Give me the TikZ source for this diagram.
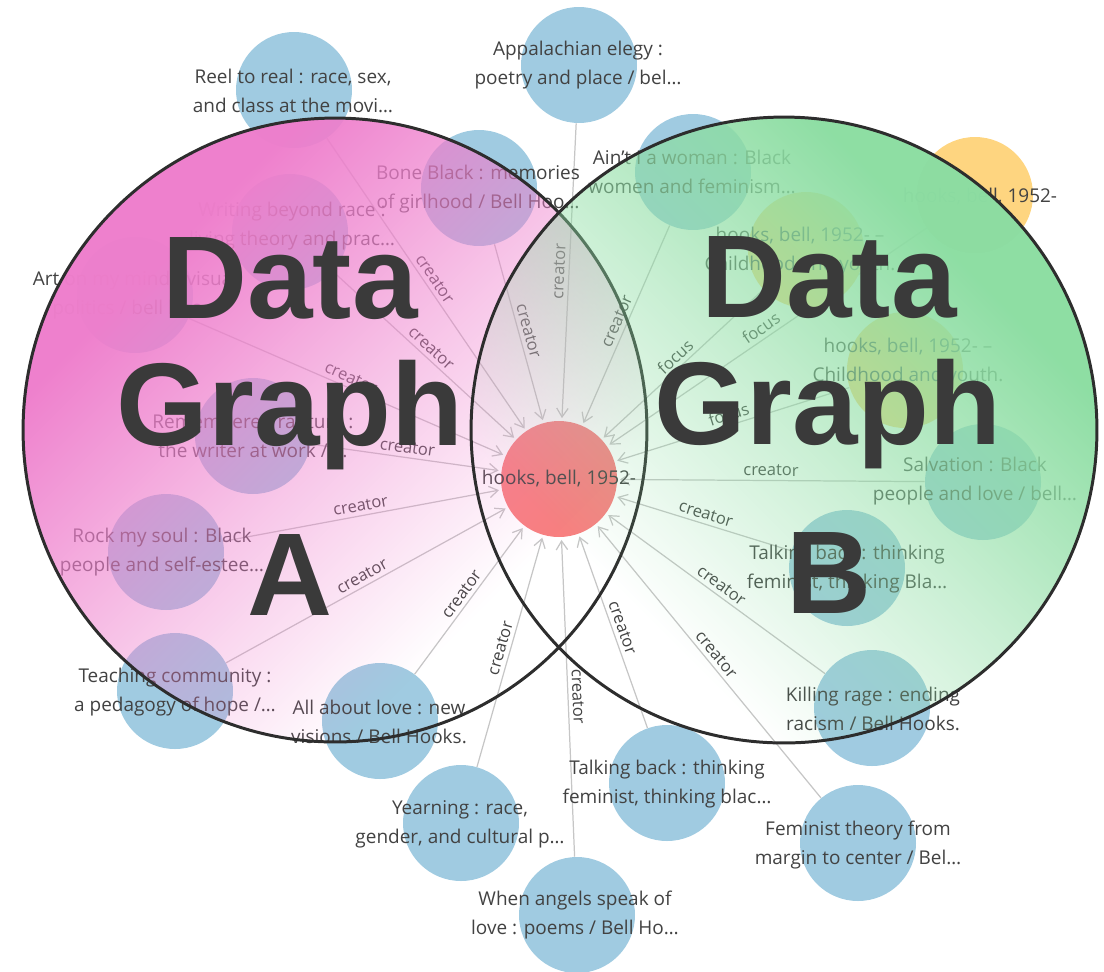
\documentclass[tikz,border=0pt]{standalone}
\usepackage{fontspec}
\setmainfont{Open Sans}
\newfontfamily\bigfont{Liberation Sans}
\usetikzlibrary{arrows.meta,fadings}
\pgfdeclarelayer{bg}
\pgfsetlayers{bg,main}
\definecolor{nodeblue}{RGB}{160,203,225}
\definecolor{nodered}{RGB}{248,128,128}
\definecolor{nodeorange}{RGB}{254,213,128}
\definecolor{edgegray}{RGB}{198,198,198}
\definecolor{txt}{RGB}{66,66,66}
\definecolor{pinkA}{RGB}{238,126,204}
\definecolor{greenB}{RGB}{140,221,162}
\definecolor{bigtxt}{RGB}{58,58,58}
\definecolor{ringline}{RGB}{45,45,45}
% opacity ramp along the diagonal of each overlay circle (black = clear, white = opaque)
\pgfdeclarehorizontalshading{rampshade}{100bp}{color(0bp)=(black); color(32.5bp)=(black);
  color(50bp)=(black!55); color(68.5bp)=(black!1.5); color(100bp)=(black!1.5)}
\pgfdeclarefading{rampfade}{\pgfuseshading{rampshade}}
\begin{document}
\begin{tikzpicture}[x=0.02cm, y=-0.02cm,
  gnode/.style={circle, minimum size=2.32cm, inner sep=0pt, fill=nodeblue},
  lbl/.style={align=center, text=txt, font=\fontsize{10.8}{16.4}\selectfont, inner sep=0pt},
  elabel/.style={sloped, above, text=txt, font=\fontsize{9.4}{11}\selectfont, inner sep=2.2pt},
  conn/.style={draw=edgegray, line width=0.7pt, -{Straight Barb[length=5pt, width=6.5pt]}, shorten >=1.5pt},
  bigtext/.style={anchor=base, text=bigtxt, font=\bigfont\bfseries\fontsize{67}{67}\selectfont, inner sep=0pt},
  ring/.style={draw=ringline, line width=1.7pt}
]
\useasboundingbox (0,0) rectangle (1104,971);

% ---------- graph nodes ----------
\node[gnode, fill=nodered] (c) at (559,479) {};
\node[gnode] (reel) at (294,90) {};
\node[gnode] (app) at (579,65) {};
\node[gnode] (bone) at (479,188) {};
\node[gnode] (aint) at (693,172) {};
\node[gnode, fill=nodeorange] (orng) at (975,195) {};
\node[gnode, fill=nodeorange] (ya) at (806,250) {};
\node[gnode, fill=nodeorange] (yb) at (905,370) {};
\node[gnode] (salv) at (983,482) {};
\node[gnode] (talkb) at (847,568) {};
\node[gnode] (kill) at (872,708) {};
\node[gnode] (fem) at (858,843) {};
\node[gnode] (talkc) at (667,783) {};
\node[gnode] (angels) at (577,915) {};
\node[gnode] (yearn) at (461,823) {};
\node[gnode] (love) at (380,721) {};
\node[gnode] (teach) at (175,691) {};
\node[gnode] (rock) at (166,552) {};
\node[gnode] (remem) at (253,436) {};
\node[gnode] (art) at (135,295) {};
\node[gnode] (beyond) at (290,232) {};

% ---------- connectors ----------
\begin{pgfonlayer}{bg}
\foreach \n/\l in {reel/creator, app/creator, bone/creator, aint/creator,
  orng/focus, ya/focus, yb/focus, salv/creator, talkb/creator, kill/creator,
  fem/creator, talkc/creator, angels/creator, yearn/creator, love/creator,
  teach/creator, rock/creator, remem/creator, art/creator, beyond/creator}
  \draw[conn] (\n) -- node[elabel] {\l} (c);
\end{pgfonlayer}

% ---------- node texts ----------
\node[lbl] (tc) at (559,479) {hooks, bell, 1952-};
\node[lbl] (treel) at (293,91) {Reel to real : race, sex,\\and class at the movi…};
\node[lbl] (tapp) at (578,65) {Appalachian elegy :\\poetry and place / bel…};
\node[lbl] (tbone) at (478,189) {Bone Black : memories\\of girlhood / Bell Hoo…};
\node[lbl] (taint) at (692,172) {Ain't I a woman : Black\\women and feminism…};
\node[lbl] (torng) at (980,197) {hooks, bell, 1952-};
\node[lbl] (tya) at (800,251) {hooks, bell, 1952- --\\Childhood and youth.};
\node[lbl] (tyb) at (908,362) {hooks, bell, 1952- --\\Childhood and youth.};
\node[lbl] (tsalv) at (975,481) {Salvation : Black\\people and love / bell…};
\node[lbl] (ttalkb) at (847,569) {Talking back : thinking\\feminist, thinking Bla…};
\node[lbl] (tkill) at (873,709) {Killing rage : ending\\racism / Bell Hooks.};
\node[lbl] (tfem) at (858,845) {Feminist theory from\\margin to center / Bel…};
\node[lbl] (ttalkc) at (667,784) {Talking back : thinking\\feminist, thinking blac…};
\node[lbl] (tangels) at (575,915) {When angels speak of\\love : poems / Bell Ho…};
\node[lbl] (tyearn) at (460,824) {Yearning : race,\\gender, and cultural p…};
\node[lbl] (tlove) at (379,722) {All about love : new\\visions / Bell Hooks.};
\node[lbl] (tteach) at (175,692) {Teaching community :\\a pedagogy of hope /…};
\node[lbl] (trock) at (162,552) {Rock my soul : Black\\people and self-estee…};
\node[lbl] (tremem) at (253,436) {Remembered rapture :\\the writer at work / …};
\node[lbl] (tart) at (135,295) {Art on my mind : visual\\politics / bell hoo…};
\node[lbl] (tbeyond) at (292,226) {Writing beyond race :\\living theory and prac…};

% ---------- overlay circles ----------
\begin{scope}
  \clip (335,430) circle[radius=6.24cm];
  \fill[pinkA, path fading=rampfade, fading angle=135] (335,430) circle[radius=6.55cm];
\end{scope}
\draw[ring] (335,430) circle[radius=6.24cm];
\begin{scope}
  \clip (784,430) circle[radius=6.26cm];
  \fill[greenB, path fading=rampfade, fading angle=45] (784,430) circle[radius=6.57cm];
\end{scope}
\draw[ring] (784,430) circle[radius=6.26cm];

% ---------- big titles ----------
\node[bigtext] (a1) at (290,318) {Data};
\node[bigtext] (a2) at (290,445) {Graph};
\node[bigtext] (a3) at (290,615) {A};
\node[bigtext] (b1) at (829,317) {Data};
\node[bigtext] (b2) at (828,444) {Graph};
\node[bigtext] (b3) at (829,613) {B};
\end{tikzpicture}
\end{document}
